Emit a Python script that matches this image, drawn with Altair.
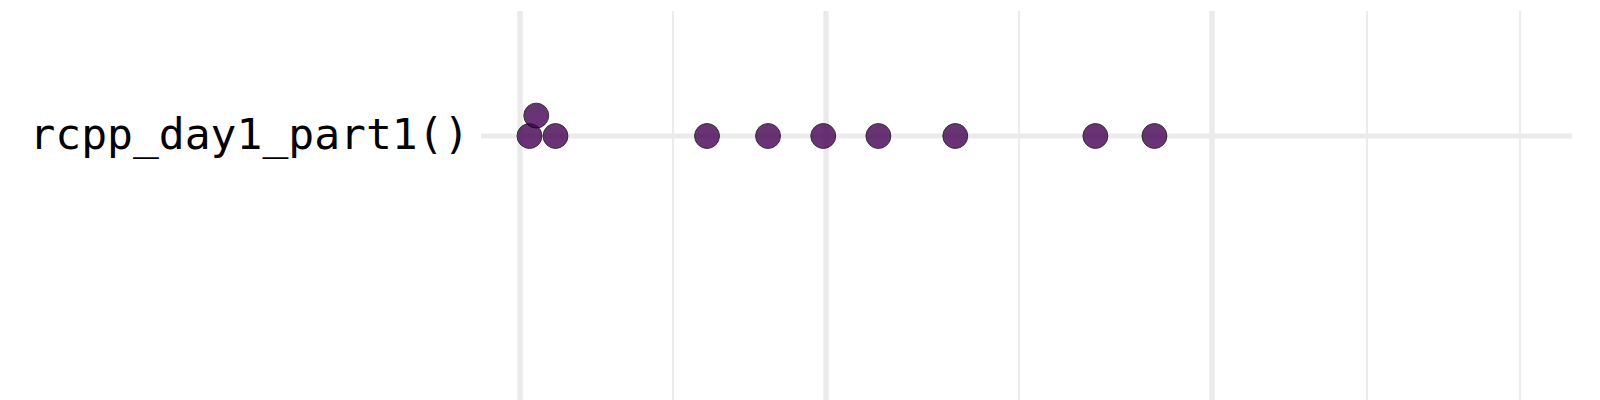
import math

import altair as alt
import pandas as pd

# benchmark expression (the only row of the plot)
benchmarks = ["rcpp_day1_part1()"]

# iteration timings (relative to the first major break)
timings = [1.022, 1.038, 1.085, 1.538, 1.770, 2.010, 2.282, 2.724, 3.761, 4.309]

# log axis breaks and limits
major_breaks = [1.0, 2.023, 4.92]
minor_breaks = [1.422, 3.155, 7.03, 10.0]
x_domain = [0.914, 11.27]


def swarm_levels(values, gap=0.02):
    """Stack points that sit too close on the log axis (simple beeswarm)."""
    placed = []
    levels = []
    for v in sorted(values):
        lv = 0
        while any(l == lv and abs(math.log10(v) - math.log10(p)) < gap for p, l in placed):
            lv += 1
        placed.append((v, lv))
        levels.append(lv)
    return levels


df = pd.DataFrame({
    "benchmark": benchmarks[0],
    "time": sorted(timings),
    "level": swarm_levels(timings),
})

grid_color = "#ebebeb"
band = 250  # height of the single benchmark row

x_enc = alt.X(
    "time:Q",
    scale=alt.Scale(type="log", domain=x_domain, nice=False),
    axis=None,
)
y_enc = alt.Y(
    "benchmark:N",
    scale=alt.Scale(range=[0, band], paddingInner=0, paddingOuter=0),
    axis=alt.Axis(
        title=None,
        ticks=False,
        domain=False,
        grid=False,
        labelFont="DejaVu Sans Mono",
        labelFontSize=43,
        labelColor="black",
        labelPadding=12,
        labelLimit=0,
        minExtent=473,
        maxExtent=473,
    ),
)

minor = (
    alt.Chart(pd.DataFrame({"time": minor_breaks}))
    .mark_rule(color=grid_color, strokeWidth=2)
    .encode(x=x_enc)
)
major = (
    alt.Chart(pd.DataFrame({"time": major_breaks}))
    .mark_rule(color=grid_color, strokeWidth=5.5)
    .encode(x=x_enc)
)
row_line = (
    alt.Chart(pd.DataFrame({"benchmark": benchmarks}))
    .mark_rule(color=grid_color, strokeWidth=5)
    .encode(y=y_enc)
)
points = (
    alt.Chart(df)
    .mark_circle(size=620, color="#440154", opacity=0.8, stroke="black", strokeWidth=1)
    .encode(
        x=x_enc,
        y=y_enc,
        yOffset=alt.YOffset(
            "level:Q",
            scale=alt.Scale(domain=[0, 1], range=[band / 2, band / 2 - 20.4]),
        ),
    )
)

chart = (
    alt.layer(minor, major, row_line, points)
    .properties(width=1091, height=420, padding=0)
    .configure_view(stroke=None)
)

chart.save("out.html", embed_options={"renderer": "svg", "actions": False})
